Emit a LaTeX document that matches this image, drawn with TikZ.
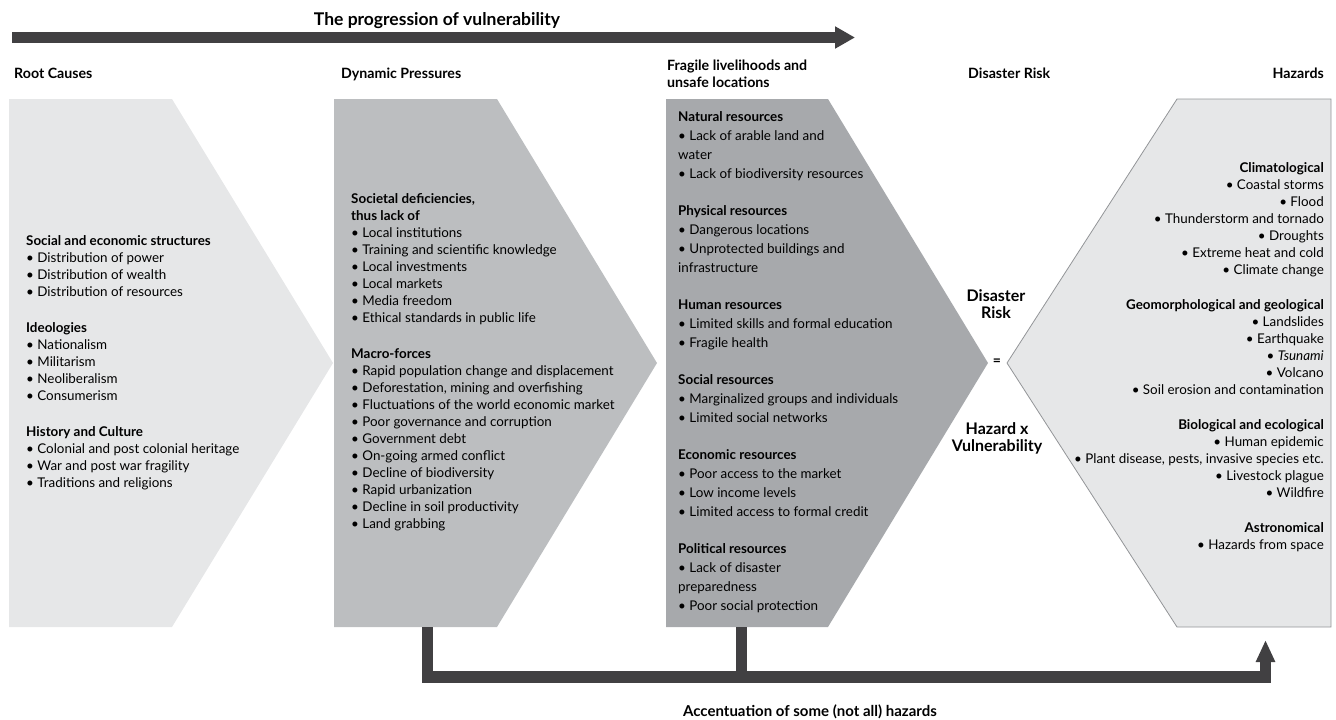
\documentclass[tikz,border=0pt]{standalone}
\usepackage{fontspec}
\setmainfont{Lato}
\usetikzlibrary{arrows.meta}
\definecolor{rootgray}{HTML}{E6E7E8}
\definecolor{dyngray}{HTML}{BCBEC0}
\definecolor{fraggray}{HTML}{A7A9AC}
\definecolor{hazline}{HTML}{939598}
\definecolor{bargray}{HTML}{414042}
\begin{document}
\begin{tikzpicture}[x=1pt,y=-1pt, line join=round, line cap=round,
	bar/.style={draw=bargray, line width=11.5pt, line cap=butt, line join=miter},
	head/.style={font=\fontsize{14.2}{17}\selectfont\bfseries, inner sep=0pt},
	body/.style={font=\fontsize{13.4}{17}\selectfont, inner sep=0pt, align=left}]
	\def\ytop{99} \def\ybot{627} \def\ymid{363}
	\def\bt{\textbullet\ }
	\useasboundingbox (0,0) rectangle (1336,720);
	%the four columns
	\fill[rootgray] (9,\ytop)--(172,\ytop)--(333,\ymid)--(172,\ybot)--(9,\ybot)--cycle;
	\fill[dyngray] (334,\ytop)--(497,\ytop)--(657,\ymid)--(497,\ybot)--(334,\ybot)--cycle;
	\fill[fraggray] (666,\ytop)--(828,\ytop)--(988,\ymid)--(828,\ybot)--(666,\ybot)--cycle;
	\draw[hazline, fill=rootgray, line width=.8pt, line join=miter] (1007,\ymid)--(1177,\ytop)--(1331,\ytop)--(1331,\ybot)--(1177,\ybot)--cycle;
	%progression arrow
	\node[font=\fontsize{17.5}{19}\selectfont\bfseries, inner sep=0pt, anchor=base] (title) at (437,25) {The progression of vulnerability};
	\coordinate (pstart) at (12,37.5);
	\coordinate (pend) at (855,37.5);
	\draw[bar, line width=11pt, -{Triangle[width=21pt,length=20pt]}] (pstart)--(pend);
	%headers
	\node[head, anchor=base west] (rc) at (14,78) {Root Causes};
	\node[head, anchor=base west] (dp) at (341,78) {Dynamic Pressures};
	\node[head, anchor=west, align=left] (fl) at (667,73.5) {Fragile livelihoods and\\unsafe locations};
	\node[head, anchor=base west] (dr) at (968,78) {Disaster Risk};
	\node[head, anchor=base east] (hz) at (1324,78) {Hazards};
	%root causes
	\node[body, anchor=west] (rcbody) at (26,363) {\textbf{Social and economic structures}\\
		\bt Distribution of power\\ \bt Distribution of wealth\\ \bt Distribution of resources\\[19pt]
		\textbf{Ideologies}\\ \bt Nationalism\\ \bt Militarism\\ \bt Neoliberalism\\ \bt Consumerism\\[19pt]
		\textbf{History and Culture}\\ \bt Colonial and post colonial heritage\\
		\bt War and post war fragility\\ \bt Traditions and religions};
	%dynamic pressures
	\node[body, anchor=west] (dpbody) at (351,362) {\textbf{Societal deficiencies,}\\ \textbf{thus lack of}\\
		\bt Local institutions\\ \bt Training and scientific knowledge\\ \bt Local investments\\
		\bt Local markets\\ \bt Media freedom\\ \bt Ethical standards in public life\\[19pt]
		\textbf{Macro-forces}\\ \bt Rapid population change and displacement\\
		\bt Deforestation, mining and overfishing\\ \bt Fluctuations of the world economic market\\
		\bt Poor governance and corruption\\ \bt Government debt\\ \bt On-going armed conflict\\
		\bt Decline of biodiversity\\ \bt Rapid urbanization\\ \bt Decline in soil productivity\\
		\bt Land grabbing};
	%fragile livelihoods
	\node[body, font=\fontsize{13.4}{19}\selectfont, anchor=west] (flbody) at (678,362.5) {\textbf{Natural resources}\\
		\bt Lack of arable land and\\ water\\ \bt Lack of biodiversity resources\\[18pt]
		\textbf{Physical resources}\\ \bt Dangerous locations\\ \bt Unprotected buildings and\\ infrastructure\\[18pt]
		\textbf{Human resources}\\ \bt Limited skills and formal education\\ \bt Fragile health\\[18pt]
		\textbf{Social resources}\\ \bt Marginalized groups and individuals\\ \bt Limited social networks\\[18pt]
		\textbf{Economic resources}\\ \bt Poor access to the market\\ \bt Low income levels\\
		\bt Limited access to formal credit\\[18pt]
		\textbf{Political resources}\\ \bt Lack of disaster\\ preparedness\\ \bt Poor social protection};
	%disaster risk equation
	\node[head, font=\fontsize{16}{17}\selectfont\bfseries, align=center] (drtop) at (996,304.5) {Disaster\\Risk};
	\node[font=\fontsize{14}{16}\selectfont\bfseries, inner sep=0pt] (eq) at (997,362) {=};
	\node[head, font=\fontsize{16}{17}\selectfont\bfseries, align=center] (drbot) at (997,438) {Hazard x\\Vulnerability};
	%hazards
	\node[body, align=right, anchor=east] (hzbody) at (1324,357) {\textbf{Climatological}\\
		\bt Coastal storms\\ \bt Flood\\ \bt Thunderstorm and tornado\\ \bt Droughts\\
		\bt Extreme heat and cold\\ \bt Climate change\\[18pt]
		\textbf{Geomorphological and geological}\\ \bt Landslides\\ \bt Earthquake\\ \bt \textit{Tsunami}\\
		\bt Volcano\\ \bt Soil erosion and contamination\\[18pt]
		\textbf{Biological and ecological}\\ \bt Human epidemic\\ \bt Plant disease, pests, invasive species etc.\\
		\bt Livestock plague\\ \bt Wildfire\\[18pt]
		\textbf{Astronomical}\\ \bt Hazards from space};
	%accentuation arrows
	\coordinate (dpfoot) at (427.5,\ybot);
	\coordinate (flfoot) at (741.5,\ybot);
	\coordinate (busL) at (427.5,677);
	\coordinate (busR) at (1265.5,677);
	\coordinate (hzfoot) at (1265.5,640);
	\draw[bar, -{Triangle[width=18pt,length=22pt]}] (dpfoot)--(busL)--(busR)--(hzfoot);
	\draw[bar] (flfoot)--(flfoot |- busL);
	\node[font=\fontsize{15}{16}\selectfont\bfseries, inner sep=0pt, anchor=base] (accent) at (810,716) {Accentuation of some (not all) hazards};
\end{tikzpicture}
\end{document}
